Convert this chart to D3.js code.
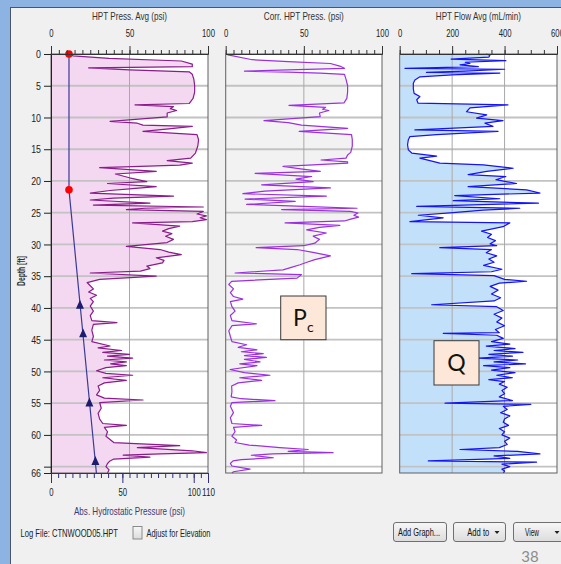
<!DOCTYPE html>
<html><head><meta charset="utf-8">
<script src="https://cdn.jsdelivr.net/npm/d3@7"></script>
<style>html,body{margin:0;padding:0;background:#fff;overflow:hidden}</style>
</head><body><svg id="c" width="561" height="564"></svg>
<script>
// ---------------- DATA ----------------
const depthTicks = [0,5,10,15,20,25,30,35,40,45,50,55,60,65,66];
const depthLabels = [0,5,10,15,20,25,30,35,40,45,50,55,60,66];

const pressTitle = "HPT Press. Avg (psi)";
const pressTicks = [0,50,100];
const pressDepth = [0,0.3,0.7,1.1,1.6,2.0,2.2,2.5,2.8,3.2,4,5,6,7,7.8,8.0,8.3,8.6,8.9,9.3,9.9,10.6,10.9,11.2,11.4,11.8,12.2,12.7,13.5,14.5,15.6,16.4,16.8,17.2,17.5,17.7,17.9,18.5,18.9,19.5,20.1,20.4,20.9,21.2,21.5,21.9,22.4,22.7,23,23.5,23.8,24.1,24.3,24.5,24.8,25.2,25.5,25.8,26.1,26.4,26.6,27.1,27.5,27.9,28.3,28.7,29.2,29.7,30.3,30.8,31.2,31.6,32.1,32.5,32.9,33.4,33.8,34.2,34.5,35,35.5,36,36.5,37,37.5,38,38.5,39,39.7,40.5,41.2,42,42.3,42.6,43.5,44.5,45.3,46,46.3,46.7,47,47.3,47.6,47.9,48.2,48.5,48.8,49.1,49.4,49.9,50.3,50.6,51,51.4,51.8,52.3,53,53.7,54.2,54.5,54.9,55.8,56.6,57.5,58.2,58.5,58.8,59.5,60.2,60.6,61.2,61.7,62.0,62.2,62.5,62.8,63.0,63.2,63.5,63.8,64.1,64.5,65,65.5,66];
const pressVal = [13,14,37,83,90,90,24,50,88,90,91,91.5,91.5,90.5,88,53.5,78,76,80,74,74,37.6,55,58.6,90,75,58.6,93,94,93.5,92,89,74,90,82,57,31,67,41,50,61,36,67,52,37.6,25,78,40,25,63,27,97,60,48,97,93,99,95,99,90,52,82,75,71,77,73,78,74,48,69.5,75,83,67,72,71,61,63,57,25,67,31,23,25,27,24,29,25,27,25,27,25,26,42,27,26,27,26,37.6,30,45,33,50,36,52,34,48,38,48,35,29,35,52,33,48,34,30,31,29,34,58.6,31,32,30,31,33,48,34,36,35,37,40,82,55,69,90,99,70,46,63,40,37.6,36,35,37,36];

const hydroTitle = "Abs. Hydrostatic Pressure (psi)";
const hydroTicks = [0,50,100,110];
const hydroLineDepth = [0,21.4,66];
const hydroLineVal = [12.6,12.6,31.8];
const hydroDotDepth = [0,21.4];
const hydroDotVal = [12.6,12.6];
const hydroTriDepth = [39.5,44,54.9,64.1];
const hydroTriVal = [20.3,22.5,26.9,31.1];

const corrTitle = "Corr. HPT Press. (psi)";
const corrTicks = [0,50,100];
const corrDepth = [0,0.15,0.9,1.2,1.5,1.9,2.25,2.5,2.7,2.85,3.0,3.2,4,5,6,7,7.7,8.1,8.4,8.7,8.9,9.3,9.85,10.5,10.8,11.2,11.7,12.2,12.7,13.5,14.5,15.5,15.9,16.4,16.7,17.0,17.2,17.7,18.1,18.5,18.8,19.3,19.7,20.1,20.6,21.1,21.6,22.0,22.4,22.85,23.2,23.7,24.0,24.3,24.5,24.8,25.05,25.4,25.7,26.0,26.3,26.6,27,27.3,27.7,28.2,28.7,29.2,29.8,30.2,30.5,30.8,31.2,31.8,32.4,32.8,33.2,33.6,34,34.5,34.75,35.3,35.8,36.3,37,37.6,38.2,38.6,39,39.8,40.5,41.2,42,42.5,42.8,43.6,44.5,45.3,45.8,46.2,46.6,46.9,47.2,47.5,47.8,48.1,48.5,48.8,49.1,49.7,50.2,50.6,51.0,51.4,51.8,52.3,53.2,54,54.3,54.6,54.9,55.5,56.5,57.3,58.2,58.5,58.8,59.5,60.2,60.8,61.2,61.6,62.0,62.3,62.6,62.8,63.0,63.2,63.6,63.9,64.1,64.5,64.9,65.4,65.8,66];
const corrVal = [1.5,1.5,17,40,67,73,76,40,12,40,60.5,76,77,78,78,77.5,75.7,40.5,64,62,66,60,60.5,24.5,40,48.5,78,47,80.5,81,81,80,78,77,61,78,78,36.7,48,60.5,18.8,55,45,56,23,67,25,11,64.4,12.4,44.5,13.4,50,84,35.8,80,84.6,82,85,80,76,38,73,60,51.8,64.4,56,60,57,50,19.5,45.7,55,67,57,52,47.5,42,36.7,6,48.5,45.7,3.8,2,5,3,5,11,3,4,6,3,4,19.6,4,2,3,4,13.4,8,20,10,24,12,26,12,22,9,20,2.8,12,28.3,9,23,8,3.8,4,3.5,10,31.5,4,3,5,3,4,23,5,6,4,7,6,15,34.7,52.8,40,68.7,30,16.4,30.5,10,4.7,3,4,15.6,5,4];

const flowTitle = "HPT Flow Avg (mL/min)";
const flowTicks = [0,200,400,600];
const flowDepth = [0,0.2,0.5,0.8,1.05,1.3,1.5,1.7,2.0,2.25,2.4,2.7,2.9,3.0,3.3,3.6,4.1,4.6,5.5,6.2,6.7,7.2,7.75,8.0,8.5,9.1,9.6,10.1,10.5,10.9,11.4,11.95,12.2,12.7,13.0,13.5,14.3,15.1,15.6,16.1,16.4,17.2,17.45,18.0,18.5,19.0,19.3,19.8,20.4,20.9,21.4,21.9,22.3,22.8,23.1,23.5,24.0,24.3,24.6,25.0,25.4,25.8,26.4,26.6,27.2,27.9,28.4,28.9,29.4,29.9,30.2,30.5,30.8,31.3,31.8,32.3,32.8,33.3,33.9,34.3,34.6,34.9,35.5,35.8,36.1,36.6,37.2,37.8,38.4,38.9,39.5,39.8,40.4,41.0,41.6,42.2,42.8,43.4,43.9,44.0,44.3,44.8,45.3,45.7,46.0,46.4,46.7,47.0,47.3,47.6,47.9,48.2,48.5,48.8,49.1,49.4,49.8,50.2,50.6,51.0,51.3,51.6,52.0,52.5,53.0,53.5,54.0,54.6,55.0,55.2,55.5,56.0,56.5,57.0,57.5,58.0,58.5,59.0,59.5,60.0,60.5,61.0,61.5,62.0,62.3,62.6,63.0,63.3,63.7,64.1,64.3,64.6,65.0,65.4,65.7,66];
const flowVal = [330,344,340,196,405,250,268,230,300,20,400,250,102,382,200,77,58,52,52,55,77,65,70,413,268,255,332,293,394,325,356,58,375,141,39,33,30,33,46,141,77,153,319,433,332,261,405,367,446,261,484,535,210,382,204,529,65,458,319,204,71,166,39,420,394,312,350,335,365,345,370,153,350,330,370,340,360,320,390,350,46,360,400,484,380,345,375,350,385,360,122,370,395,360,390,370,400,365,380,166,370,395,350,420,330,440,360,470,340,430,300,450,360,480,320,420,350,440,370,430,340,400,380,410,390,400,380,430,173,500,395,410,385,420,400,395,415,380,400,390,420,400,410,380,230,450,535,360,420,109,522,390,420,390,400,395];

const noteLabels = ["P", "Q"];

// ---------------- DRAW ----------------
const svg = d3.select("#c");
const FONT = "'Liberation Sans', Arial, sans-serif";
const yTop = 54, yBot = 473;
const y = d3.scaleLinear().domain([0,66]).range([yTop,yBot]);

const xP = d3.scaleLinear().domain([0,100]).range([51,208]);
const xH = d3.scaleLinear().domain([0,110]).range([51,208]);
const xC = d3.scaleLinear().domain([0,100]).range([225.7,382]);
const xF = d3.scaleLinear().domain([0,600]).range([399.7,557]);

// window background
svg.append("rect").attr("width",561).attr("height",564).attr("fill","#8db3e2");
svg.append("rect").attr("x",10.5).attr("y",7.5).attr("width",580).attr("height",580)
  .attr("fill","#f0f0f0").attr("stroke","#4a5668").attr("stroke-width",1);

const zip = (ds,vs) => ds.map((d,i)=>({d:d,v:vs[i]}));

function panel(x, depths, vals, fill, stroke, sw, vgrid){
  const [x0,x1] = x.range();
  const g = svg.append("g");
  g.append("rect").attr("x",x0).attr("y",yTop).attr("width",x1-x0).attr("height",yBot-yTop).attr("fill","#fff");
  const data = zip(depths, vals);
  const area = d3.area().y(p=>y(p.d)).x0(x0).x1(p=>x(p.v));
  g.append("path").datum(data).attr("d",area).attr("fill",fill);
  // horizontal grid
  g.selectAll("line.hg").data(depthTicks.filter(t=>t>0 && t<66)).enter().append("line")
    .attr("x1",x0).attr("x2",x1).attr("y1",t=>y(t)).attr("y2",t=>y(t))
    .attr("stroke","#c2c2c2").attr("stroke-width",1.8);
  g.selectAll("line.vg").data(vgrid).enter().append("line")
    .attr("x1",t=>x(t)).attr("x2",t=>x(t)).attr("y1",yTop).attr("y2",yBot)
    .attr("stroke","#a8a8a8").attr("stroke-width",1);
  const line = d3.line().y(p=>y(p.d)).x(p=>x(p.v));
  g.append("path").datum(data).attr("d",line).attr("fill","none")
    .attr("stroke",stroke).attr("stroke-width",sw).attr("stroke-linejoin","round");
  g.append("rect").attr("x",x0).attr("y",yTop).attr("width",x1-x0).attr("height",yBot-yTop)
    .attr("fill","none").attr("stroke","#606060").attr("stroke-width",1);
  return g;
}

function styleAxis(sel, color, digitW){
  sel.select(".domain").attr("stroke",color);
  sel.selectAll(".tick line").attr("stroke",color);
  sel.selectAll("text").attr("font-family",FONT).attr("font-size","11.5px").attr("fill","#222")
    .each(function(){ const t=d3.select(this).text(); if(t.length) d3.select(this).attr("textLength",t.length*digitW).attr("lengthAdjust","spacingAndGlyphs"); });
}

function topAxis(x, minorStep, major, title, tw){
  const [a,b] = x.domain();
  const minor = d3.range(a,b+0.001,minorStep);
  const g1 = svg.append("g").attr("transform",`translate(0,${yTop})`)
    .call(d3.axisTop(x).tickValues(minor).tickSize(4).tickSizeOuter(0).tickFormat(""));
  styleAxis(g1,"#333",4.3);
  const g2 = svg.append("g").attr("transform",`translate(0,${yTop})`)
    .call(d3.axisTop(x).tickValues(major).tickSize(8).tickSizeOuter(0).tickPadding(9));
  styleAxis(g2,"#333",4.3);
  const [r0,r1] = x.range();
  svg.append("text").attr("x",(r0+r1)/2).attr("y",20).attr("text-anchor","middle")
    .attr("font-family",FONT).attr("font-size","11.5px").attr("fill","#333")
    .attr("textLength",tw).attr("lengthAdjust","spacingAndGlyphs").text(title);
}

// Panels
const p1 = panel(xP, pressDepth, pressVal, "#f4d7f1", "#8a1c8c", 1.2, [50]);
const p2 = panel(xC, corrDepth, corrVal, "#f2f2f2", "#9b30e0", 1.2, [50]);
const p3 = panel(xF, flowDepth, flowVal, "#c3e0fa", "#1414f5", 1.2, [200,400]);

// hydrostatic overlay in panel 1
p1.append("path").datum(zip(hydroLineDepth,hydroLineVal))
  .attr("d", d3.line().y(p=>y(p.d)).x(p=>xH(p.v)))
  .attr("fill","none").attr("stroke","#3b3b95").attr("stroke-width",1.2);
p1.selectAll("circle.dot").data(zip(hydroDotDepth,hydroDotVal)).enter().append("circle")
  .attr("cx",p=>xH(p.v)).attr("cy",p=>y(p.d)).attr("r",3.8).attr("fill","#ff0000");
p1.selectAll("path.tri").data(zip(hydroTriDepth,hydroTriVal)).enter().append("path")
  .attr("d", d3.symbol(d3.symbolTriangle, 38))
  .attr("transform",p=>`translate(${xH(p.v)},${y(p.d)+1}) scale(0.85,1.1)`)
  .attr("fill","#1c1c70");

// top axes
topAxis(xP, 5, pressTicks, pressTitle, 75);
topAxis(xC, 5, corrTicks, corrTitle, 80);
topAxis(xF, 50, flowTicks, flowTitle, 85);

// left axis
const gl = svg.append("g").attr("transform","translate(51,0)")
  .call(d3.axisLeft(y).tickValues(depthTicks).tickSize(7).tickSizeOuter(0).tickPadding(3)
    .tickFormat(d=> depthLabels.includes(d) ? d : ""));
styleAxis(gl,"#222",4.9);
svg.append("text").attr("transform","translate(25,271) rotate(-90)").attr("text-anchor","middle")
  .attr("font-family",FONT).attr("font-size","10.5px").attr("font-weight","bold").attr("fill","#333")
  .attr("textLength",30).attr("lengthAdjust","spacingAndGlyphs").text("Depth [ft]");

// bottom axis (hydrostatic)
const hMinor = d3.range(0,110.001,5);
const gb1 = svg.append("g").attr("transform",`translate(0,${yBot})`)
  .call(d3.axisBottom(xH).tickValues(hMinor).tickSize(5).tickSizeOuter(0).tickFormat(""));
styleAxis(gb1,"#2e2e80",4.3);
const gb2 = svg.append("g").attr("transform",`translate(0,${yBot})`)
  .call(d3.axisBottom(xH).tickValues(hydroTicks).tickSize(10).tickSizeOuter(0).tickPadding(5));
styleAxis(gb2,"#2e2e80",4.3);
svg.append("text").attr("x",129.5).attr("y",515).attr("text-anchor","middle")
  .attr("font-family",FONT).attr("font-size","11.5px").attr("fill","#3a3a78")
  .attr("textLength",111).attr("lengthAdjust","spacingAndGlyphs").text(hydroTitle);

// note boxes
function noteBox(x0,y0,w,h,main,sub){
  svg.append("rect").attr("x",x0).attr("y",y0).attr("width",w).attr("height",h)
    .attr("fill","#fde7d9").attr("stroke","#3a3a3a").attr("stroke-width",1);
  const t = svg.append("text").attr("x",x0+w/2).attr("y",y0+h/2+8).attr("text-anchor","middle")
    .attr("font-family","Lato, 'Open Sans', sans-serif").attr("font-size","23px").attr("fill","#111");
  t.append("tspan").text(main);
  if(sub) t.append("tspan").attr("font-size","14px").attr("dy",6).text(sub);
}
noteBox(280.7,296,45.3,43.7,noteLabels[0],"c");
noteBox(434,340.7,45,44.3,noteLabels[1],null);

// footer
svg.append("text").attr("x",20.5).attr("y",537).attr("font-family",FONT).attr("font-size","11.5px")
  .attr("fill","#222").attr("textLength",97.5).attr("lengthAdjust","spacingAndGlyphs").text("Log File: CTNWOOD05.HPT");
const defs = svg.append("defs");
const gr = defs.append("linearGradient").attr("id","btn").attr("x1",0).attr("y1",0).attr("x2",0).attr("y2",1);
gr.append("stop").attr("offset","0%").attr("stop-color","#f7f7f7");
gr.append("stop").attr("offset","100%").attr("stop-color","#dcdcdc");
svg.append("rect").attr("x",133).attr("y",526.5).attr("width",9).attr("height",12.5)
  .attr("fill","url(#btn)").attr("stroke","#8a8a8a");
svg.append("text").attr("x",146.5).attr("y",537).attr("font-family",FONT).attr("font-size","11.5px")
  .attr("fill","#222").attr("textLength",64).attr("lengthAdjust","spacingAndGlyphs").text("Adjust for Elevation");

const buttons = [
  {x:393,w:53,label:"Add Graph...",tw:42,tx:398,arrow:false},
  {x:453,w:52,label:"Add to",tw:22,tx:467.3,arrow:true,ax:497},
  {x:513,w:55,label:"View",tw:14,tx:525,arrow:true,ax:557}
];
buttons.forEach(b=>{
  svg.append("rect").attr("x",b.x+0.5).attr("y",522.5).attr("width",b.w).attr("height",19).attr("rx",2.5)
    .attr("fill","url(#btn)").attr("stroke","#707070");
  svg.append("text").attr("x",b.tx).attr("y",535.5).attr("font-family",FONT).attr("font-size","11px")
    .attr("fill","#111").attr("textLength",b.tw).attr("lengthAdjust","spacingAndGlyphs").text(b.label);
  if(b.arrow) svg.append("path").attr("d",`M${b.ax-2.5},531 L${b.ax+2.5},531 L${b.ax},534 Z`).attr("fill","#222");
});
svg.append("text").attr("x",530).attr("y",562).attr("text-anchor","middle")
  .attr("font-family","Lato, 'Open Sans', sans-serif").attr("font-size","15px").attr("fill","#8c8c8c").text("38");
</script></body></html>
